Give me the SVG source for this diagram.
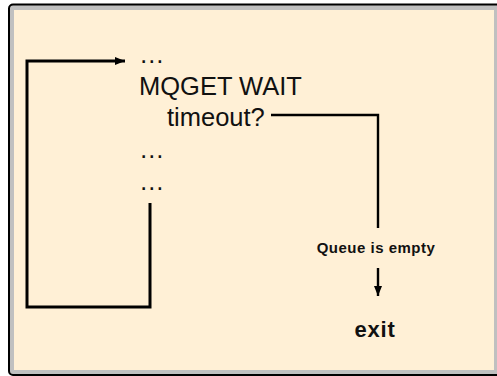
<svg xmlns="http://www.w3.org/2000/svg" width="497" height="376" viewBox="0 0 497 376">
<defs>
<style>
.code{font-family:"Liberation Sans",Arial,sans-serif;font-size:25.5px;fill:#111}
.lbl{font-family:"Liberation Sans",Arial,sans-serif;font-weight:bold;fill:#111;text-anchor:middle}
.conn{fill:none;stroke:#000;stroke-linejoin:miter;stroke-linecap:butt}
</style>
<marker id="ah" viewBox="0 0 10 10" refX="10" refY="5" markerWidth="10" markerHeight="10" markerUnits="userSpaceOnUse" orient="auto">
<path d="M0,1 L10,5 L0,9 z" fill="#000"/>
</marker>
</defs>
<g id="frame">
<rect x="9" y="4.5" width="500" height="370.5" rx="4" fill="#c0c0c0" stroke="#000" stroke-width="2"/>
<rect x="14" y="10" width="480" height="360" fill="#fff0d6"/>
</g>
<g id="code">
<text class="code" x="139" y="63">…</text>
<text class="code" x="139" y="95">MQGET WAIT</text>
<text class="code" x="167" y="126">timeout?</text>
<text class="code" x="139" y="158">…</text>
<text class="code" x="139" y="190">…</text>
</g>
<g id="queue-empty">
<text class="lbl" x="376" y="253" font-size="15" letter-spacing="0.5">Queue is empty</text>
</g>
<g id="exit">
<text class="lbl" x="375" y="337" font-size="22" letter-spacing="0.8">exit</text>
</g>
<g id="connectors">
<path class="conn" stroke-width="3" d="M150,203 V307 H27 V61 H125" marker-end="url(#ah)"/>
<path class="conn" stroke-width="2.4" d="M271,115 H378 V228"/>
<path class="conn" stroke-width="2.4" d="M378,268 V296" marker-end="url(#ah)"/>
</g>
</svg>
